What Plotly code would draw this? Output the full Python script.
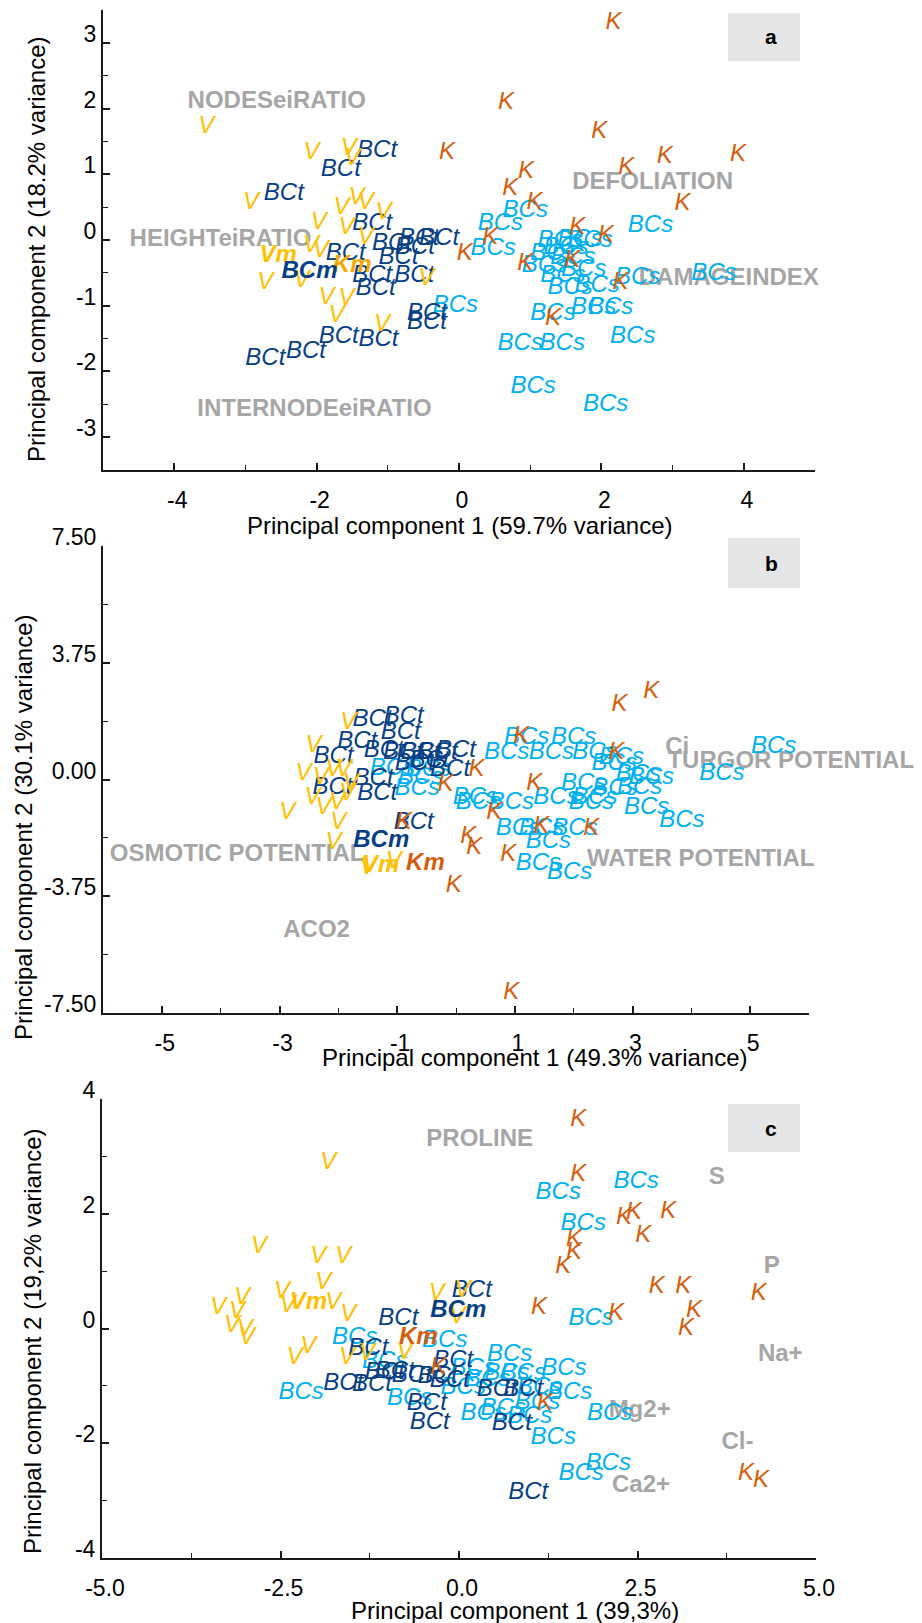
import plotly.graph_objects as go

W, H = 922, 1623
FONT = "Liberation Sans, Arial, sans-serif"
C_V = "#FFC000"
C_K = "#D35F0F"
C_BCT = "#073F86"
C_BCS = "#00B0F0"
C_GREY = "#A6A6A6"

# ---------------- Panel a data ----------------
a_V_x = [-3.55, -2.07, -1.55, -1.5, -2.92, -1.44, -1.65, -1.31, -1.06, -1.97, -1.58, -1.31, -2.08, -1.94, -2.72, -2.21, -1.86, -1.58, -1.72, -1.08, -0.46]
a_V_y = [1.72, 1.33, 1.39, 1.24, 0.57, 0.64, 0.49, 0.57, 0.41, 0.26, 0.18, 0.03, -0.09, -0.17, -0.66, -0.63, -0.89, -0.9, -1.16, -1.29, -0.6]
a_K_x = [2.17, 0.66, 1.97, 0.94, 0.72, 2.89, 3.92, 2.35, 3.14, 1.06, 0.44, 1.66, 2.06, 0.08, 0.93, 1.59, -0.17, 1.32, 2.27]
a_K_y = [3.31, 2.08, 1.64, 1.03, 0.78, 1.27, 1.30, 1.09, 0.55, 0.57, 0.03, 0.18, 0.06, -0.21, -0.37, -0.32, 1.32, -1.2, -0.66]
a_BCt_x = [-1.15, -1.66, -2.46, -1.22, -0.94, -0.56, -0.28, -0.62, -1.59, -0.85, -1.17, -1.22, -0.63, -0.45, -0.45, -1.69, -1.13, -2.15, -2.72]
a_BCt_y = [1.36, 1.06, 0.70, 0.24, -0.06, 0.02, 0.02, -0.12, -0.22, -0.27, -0.75, -0.55, -0.55, -1.12, -1.27, -1.47, -1.52, -1.7, -1.81]
a_BCs_x = [0.93, 0.58, 0.48, 2.69, 1.42, 1.7, 1.32, 1.6, 1.84, 1.5, -0.05, 1.46, 1.56, 1.94, 1.32, 1.89, 2.13, 2.44, 0.86, 1.45, 1.04, 2.06, 3.58, 2.51, 1.75, 1.2]
a_BCs_y = [0.44, 0.24, -0.14, 0.21, -0.02, 0.0, -0.22, -0.27, -0.02, -0.12, -1.0, -0.55, -0.73, -0.7, -1.12, -1.04, -1.04, -1.47, -1.59, -1.58, -2.24, -2.51, -0.52, -0.58, -0.45, -0.4]
a_mean_lbl = ["Vm", "Km", "BCm"]
a_mean_x = [-2.54, -1.5, -2.1]
a_mean_y = [-0.25, -0.39, -0.49]
a_var_lbl = ["NODESeiRATIO", "HEIGHTeiRATIO", "DEFOLIATION", "DAMAGEINDEX", "INTERNODEeiRATIO"]
a_var_x = [-2.56, -3.35, 2.72, 3.79, -2.03]
a_var_y = [2.10, 0.0, 0.87, -0.6, -2.59]
a_xticks = [-4, -2, 0, 2, 4]
a_xticktext = ["-4", "-2", "0", "2", "4"]
a_yticks = [-3, -2, -1, 0, 1, 2, 3]
a_yticktext = ["-3", "-2", "-1", "0", "1", "2", "3"]

# ---------------- Panel b data ----------------
b_V_x = [-1.83, -2.42, -2.59, -2.3, -2.08, -1.91, -2.44, -2.25, -2.02, -1.85, -2.87, -2.0, -1.79, -2.08, -1.5, -1.06]
b_V_y = [1.8, 1.09, 0.19, 0.06, 0.29, 0.29, -0.61, -0.9, -0.77, -0.45, -1.06, -1.41, -0.13, -2.05, -2.83, -2.66]
b_K_x = [3.32, 2.78, 1.11, 2.73, 0.35, 1.33, 0.65, 1.45, 2.3, -0.18, -0.89, 0.31, 0.89, -0.04, 0.94, 0.21]
b_K_y = [2.8, 2.38, 1.35, 0.84, 0.29, -0.13, -1.06, -1.54, -1.58, -0.19, -1.41, -2.19, -2.44, -3.41, -6.85, -1.86]
b_BCt_x = [-1.42, -0.89, -0.94, -1.68, -2.08, -1.23, -0.31, -1.4, -2.1, -1.34, -0.72, -0.9, -0.6, -0.7, -0.45, 0.0, -0.1]
b_BCt_y = [1.9, 2.0, 1.48, 1.19, 0.71, 0.93, 0.84, 0.03, -0.26, -0.45, -1.41, 0.84, 0.84, 0.5, 0.6, 0.93, 0.29]
b_BCs_x = [1.2, 2.0, 0.86, 1.62, 2.36, 2.81, 2.69, 3.32, 3.1, 4.52, 5.4, 2.17, 3.12, 0.94, 0.38, 2.3, 3.24, 3.84, 2.36, 1.06, 1.45, 2.02, 1.4, 1.93, 1.57, -1.08, -0.66, -0.6, -0.47, 0.33, 1.7, 2.7]
b_BCs_y = [1.32, 1.32, 0.84, 0.84, 0.84, 0.68, 0.51, 0.06, 0.13, 0.19, 1.03, -0.13, -0.26, -0.74, -0.77, -0.77, -0.9, -1.32, -0.61, -1.58, -1.58, -1.58, -2.7, -2.99, -2.0, 0.35, -0.29, 0.06, 0.29, -0.61, -0.6, -0.3]
b_mean_lbl = ["BCm", "Vm", "Km"]
b_mean_x = [-1.27, -1.28, -0.52]
b_mean_y = [-1.96, -2.77, -2.7]
b_mean_col = [C_BCT, C_V, C_K]
b_var_lbl = ["Ci", "TURGOR POTENTIAL", "OSMOTIC POTENTIAL", "WATER POTENTIAL", "ACO2"]
b_var_x = [3.76, 5.69, -3.72, 4.16, -2.37]
b_var_y = [1.0, 0.55, -2.44, -2.57, -4.86]
b_xticks = [-5, -3, -1, 1, 3, 5]
b_xticktext = ["-5", "-3", "-1", "1", "3", "5"]
b_yticks = [-7.5, -3.75, 0, 3.75, 7.5]
b_yticktext = ["-7.50", "-3.75", "0.00", "3.75", "7.50"]

# ---------------- Panel c data ----------------
c_V_x = [-1.83, -2.8, -1.97, -1.62, -1.9, -3.04, -3.37, -3.11, -2.48, -2.4, -1.76, -1.55, -3.18, -3.0, -2.97, -2.3, -2.11, -1.57, -1.29, -0.76, -0.31, 0.05, -0.02]
c_V_y = [2.88, 1.42, 1.24, 1.24, 0.79, 0.54, 0.35, 0.28, 0.63, 0.4, 0.44, 0.23, 0.05, -0.03, -0.16, -0.51, -0.33, -0.51, -0.44, -0.42, 0.61, 0.66, 0.2]
c_K_x = [1.67, 1.67, 2.31, 2.45, 2.93, 2.58, 1.61, 1.61, 1.46, 4.2, 2.77, 3.14, 3.29, 3.18, 1.12, 2.2, -0.29, 1.2, 4.02, 4.23]
c_K_y = [3.63, 2.67, 1.92, 2.01, 2.03, 1.62, 1.54, 1.31, 1.07, 0.61, 0.72, 0.72, 0.31, 0.0, 0.35, 0.26, -0.68, -1.31, -2.53, -2.66]
c_BCt_x = [0.18, -0.85, -1.27, -0.08, -1.04, -0.66, -1.62, -1.22, -0.13, 0.53, 0.9, -0.45, -0.41, 0.74, 0.97, -0.3, -0.9]
c_BCt_y = [0.66, 0.17, -0.35, -0.56, -0.77, -0.82, -0.96, -0.99, -0.91, -1.08, -1.08, -1.31, -1.64, -1.66, -2.86, -0.85, -0.75]
c_BCs_x = [1.39, 2.48, 1.74, 1.85, 0.71, 1.47, -1.46, -0.2, -1.04, 0.2, 0.67, 1.13, 1.55, 0.06, -0.69, 0.34, 0.62, 0.99, 1.32, 2.11, 2.09, 1.71, -2.21, 1.1, 0.9, 0.4]
c_BCs_y = [2.36, 2.55, 1.83, 0.17, -0.47, -0.7, -0.16, -0.21, -0.59, -0.7, -0.79, -1.03, -1.12, -1.03, -1.22, -1.49, -1.4, -1.55, -1.9, -1.49, -2.36, -2.53, -1.12, -1.3, -0.8, -0.9]
c_mean_lbl = ["Vm", "BCm", "Km"]
c_mean_x = [-2.11, -0.01, -0.57]
c_mean_y = [0.44, 0.31, -0.16]
c_mean_col = [C_V, C_BCT, C_K]
c_var_lbl = ["PROLINE", "S", "P", "Na+", "Mg2+", "Cl-", "Ca2+"]
c_var_x = [0.29, 3.61, 4.38, 4.5, 2.53, 3.9, 2.55]
c_var_y = [3.28, 2.62, 1.07, -0.47, -1.43, -1.99, -2.74]
c_xticks = [-5, -2.5, 0, 2.5, 5]
c_xticktext = ["-5.0", "-2.5", "0.0", "2.5", "5.0"]
c_yticks = [-4, -2, 0, 2, 4]
c_yticktext = ["-4", "-2", "0", "2", "4"]

PT = 24
VAR = 24

fig = go.Figure()


def txt(xs, ys, label, color, ax, size=PT, italic=True, bold=False):
    labels = label if isinstance(label, list) else [label] * len(xs)
    fig.add_trace(go.Scatter(
        x=xs, y=ys, mode="text", text=labels, textposition="middle center",
        textfont=dict(family=FONT, size=size, color=color,
                      style="italic" if italic else "normal",
                      weight="bold" if bold else "normal"),
        cliponaxis=False, showlegend=False, hoverinfo="skip",
        xaxis="x" + ax, yaxis="y" + ax))


for ax, d in [("", dict(V=(a_V_x, a_V_y), K=(a_K_x, a_K_y), BCt=(a_BCt_x, a_BCt_y), BCs=(a_BCs_x, a_BCs_y),
                         var=(a_var_x, a_var_y, a_var_lbl))),
              ("2", dict(V=(b_V_x, b_V_y), K=(b_K_x, b_K_y), BCt=(b_BCt_x, b_BCt_y), BCs=(b_BCs_x, b_BCs_y),
                         var=(b_var_x, b_var_y, b_var_lbl))),
              ("3", dict(V=(c_V_x, c_V_y), K=(c_K_x, c_K_y), BCt=(c_BCt_x, c_BCt_y), BCs=(c_BCs_x, c_BCs_y),
                         var=(c_var_x, c_var_y, c_var_lbl)))]:
    vx, vy, vl = d["var"]
    txt(vx, vy, vl, C_GREY, ax, size=VAR, italic=False, bold=True)
    txt(*d["BCs"], "BCs", C_BCS, ax)
    txt(*d["BCt"], "BCt", C_BCT, ax)
    txt(*d["V"], "V", C_V, ax)
    txt(*d["K"], "K", C_K, ax)

# means (bold italic)
a_mean_col = [C_V, "#F2A900", C_BCT]
for lbl, x, y, col in zip(a_mean_lbl, a_mean_x, a_mean_y, a_mean_col):
    txt([x], [y], lbl, col, "", bold=True)
for lbl, x, y, col in zip(b_mean_lbl, b_mean_x, b_mean_y, b_mean_col):
    txt([x], [y], lbl, col, "2", bold=True)
for lbl, x, y, col in zip(c_mean_lbl, c_mean_x, c_mean_y, c_mean_col):
    txt([x], [y], lbl, col, "3", bold=True)


def px(x):
    return x / W


def py(y):
    return 1 - y / H


axis_common = dict(showline=True, linecolor="#1a1a1a", linewidth=2, mirror=False,
                   ticks="inside", ticklen=7, tickwidth=1.5, tickcolor="#1a1a1a",
                   showgrid=False, zeroline=False, tickmode="array", automargin=False,
                   tickfont=dict(family=FONT, size=23, color="black"))

xa = dict(axis_common, ticklabelstandoff=8, ticklabelshift=3)
ya = dict(axis_common, ticklabelstandoff=0, ticklabelshift=-9)
mn = dict(ticks="inside", ticklen=5, tickwidth=1.2, tickcolor="#1a1a1a")

fig.update_layout(
    template="none",
    width=W, height=H, margin=dict(l=0, r=0, t=0, b=0, autoexpand=False),
    paper_bgcolor="white", plot_bgcolor="white", showlegend=False,
    xaxis=dict(xa, domain=[px(103), px(815)], range=[-5, 5], tickvals=a_xticks, ticktext=a_xticktext,
               minor=dict(mn, tickvals=[-3, -1, 1, 3]), anchor="y"),
    yaxis=dict(ya, domain=[py(470), py(10)], range=[-3.5, 3.5], tickvals=a_yticks, ticktext=a_yticktext,
               minor=dict(mn, tickvals=[-2.5, -1.5, -0.5, 0.5, 1.5, 2.5]), anchor="x"),
    xaxis2=dict(xa, domain=[px(103), px(809)], range=[-6, 6], tickvals=b_xticks, ticktext=b_xticktext,
                minor=dict(mn, tickvals=[-4, -2, 0, 2, 4]), anchor="y2"),
    yaxis2=dict(ya, domain=[py(1013), py(546)], range=[-7.5, 7.5], tickvals=b_yticks, ticktext=b_yticktext,
                minor=dict(mn, tickvals=[-5.625, -1.875, 1.875, 5.625]), anchor="x2"),
    xaxis3=dict(xa, domain=[px(102), px(816)], range=[-5, 5], tickvals=c_xticks, ticktext=c_xticktext,
                minor=dict(mn, tickvals=[-3.75, -1.25, 1.25, 3.75]), anchor="y3"),
    yaxis3=dict(ya, domain=[py(1558), py(1099)], range=[-4, 4], tickvals=c_yticks, ticktext=c_yticktext,
                minor=dict(mn, tickvals=[-3, -1, 1, 3]), anchor="x3"),
)

# panel letter boxes
for (y0, y1, letter) in [(13, 61, "a"), (538, 588, "b"), (1104, 1152, "c")]:
    fig.add_shape(type="rect", xref="paper", yref="paper", x0=px(728), x1=px(800), y0=py(y1), y1=py(y0),
                  fillcolor="#E6E6E6", line=dict(width=0), layer="below")
    fig.add_annotation(xref="paper", yref="paper", x=px(771), y=py((y0 + y1) / 2), text="<b>%s</b>" % letter,
                       showarrow=False, xanchor="center", yanchor="middle",
                       font=dict(family=FONT, size=21, color="black"))

# axis titles
titles = [
    ("Principal component 1 (59.7% variance)", 460, 525, 0),
    ("Principal component 2 (18.2% variance)", 37, 249, -90),
    ("Principal component 1 (49.3% variance)", 535, 1057, 0),
    ("Principal component 2 (30.1% variance)", 23, 827, -90),
    ("Principal component 1 (39,3%)", 515, 1610, 0),
    ("Principal component 2 (19,2% variance)", 32, 1341, -90),
]
for t, x, y, ang in titles:
    fig.add_annotation(xref="paper", yref="paper", x=px(x), y=py(y), text=t, textangle=ang,
                       showarrow=False, xanchor="center", yanchor="middle",
                       font=dict(family=FONT, size=24, color="black"))

fig.write_html("out.html", config={"displayModeBar": False},
               post_script="document.body.style.margin='0px';")
